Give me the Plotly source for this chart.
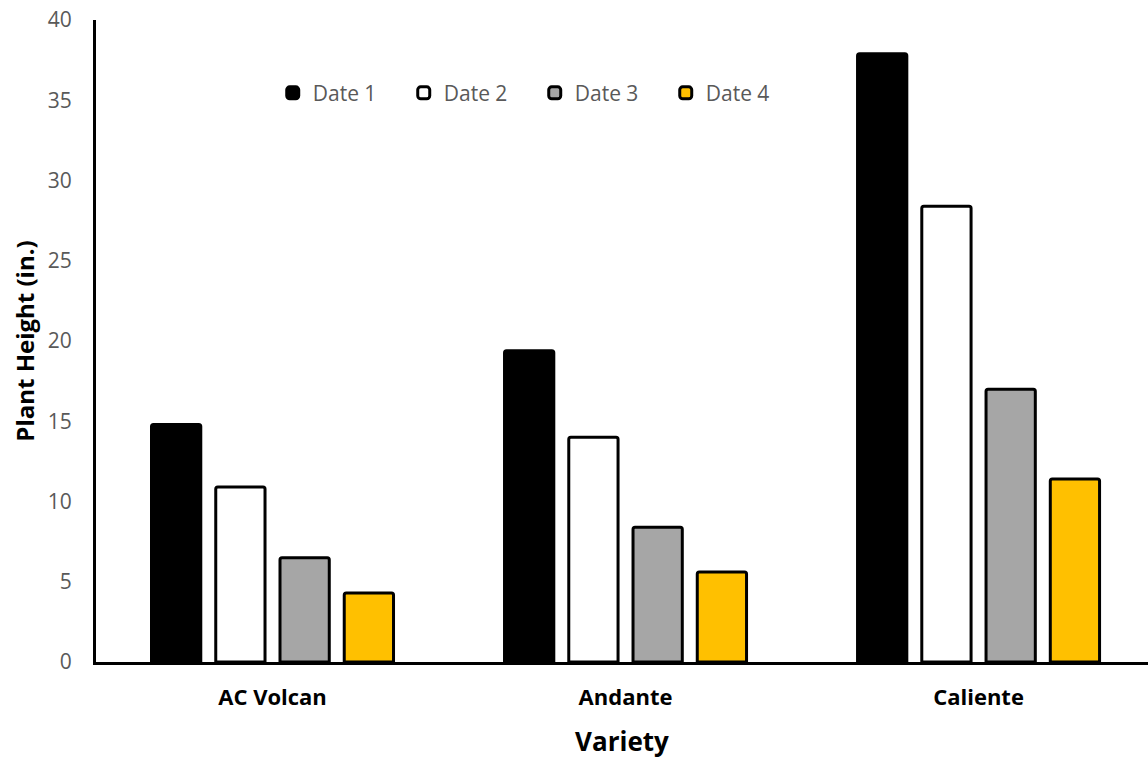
import plotly.graph_objects as go

varieties = ["AC Volcan", "Andante", "Caliente"]
series_names = ["Date 1", "Date 2", "Date 3", "Date 4"]
date1 = [14.8, 19.4, 37.9]
date2 = [10.9, 14.0, 28.4]
date3 = [6.5, 8.4, 17.0]
date4 = [4.3, 5.6, 11.4]
colors = ["#000000", "#FFFFFF", "#A6A6A6", "#FFC000"]
y_ticks = [0, 5, 10, 15, 20, 25, 30, 35, 40]

font_family = "Open Sans, Noto Sans, Liberation Sans, sans-serif"

fig = go.Figure()
for name, vals, col in zip(series_names, [date1, date2, date3, date4], colors):
    fig.add_trace(go.Bar(
        x=varieties, y=vals, name=name,
        marker=dict(color=col, line=dict(color="#000000", width=3), cornerradius=2),
    ))

fig.update_layout(
    width=1148, height=760,
    paper_bgcolor="white", plot_bgcolor="white",
    margin=dict(l=96, r=0, t=20, b=98),
    barmode="group", bargap=0.272, bargroupgap=0.233,
    font=dict(family=font_family, color="#595959", size=18),
    showlegend=True,
    legend=dict(orientation="h", x=0.168, y=0.886, xanchor="left", yanchor="middle",
                font=dict(size=21, color="#595959", family=font_family),
                traceorder="normal", itemwidth=30, entrywidth=86, entrywidthmode="pixels",
                bgcolor="rgba(0,0,0,0)"),
    xaxis=dict(
        range=[-0.5, 2.48], showline=True, linecolor="#000000", linewidth=3,
        showgrid=False, ticks="", zeroline=False,
        tickfont=dict(size=22, color="#000000", family=font_family, weight="bold"),
        ticklabelstandoff=14,
        title=dict(text="<b>Variety</b>", font=dict(size=26, color="#000000", family=font_family), standoff=23),
    ),
    yaxis=dict(
        range=[0, 40], tickvals=y_ticks, showline=True, linecolor="#000000", linewidth=3,
        showgrid=False, ticks="", zeroline=False,
        tickfont=dict(size=21, color="#595959", family=font_family),
        ticklabelstandoff=17,
        title=dict(text="<b>Plant Height (in.)</b>", font=dict(size=24, color="#000000", family=font_family), standoff=7),
    ),
)

fig.write_html("out.html", config={"displayModeBar": False},
               post_script="document.body.style.margin='0';document.body.style.padding='0';")
